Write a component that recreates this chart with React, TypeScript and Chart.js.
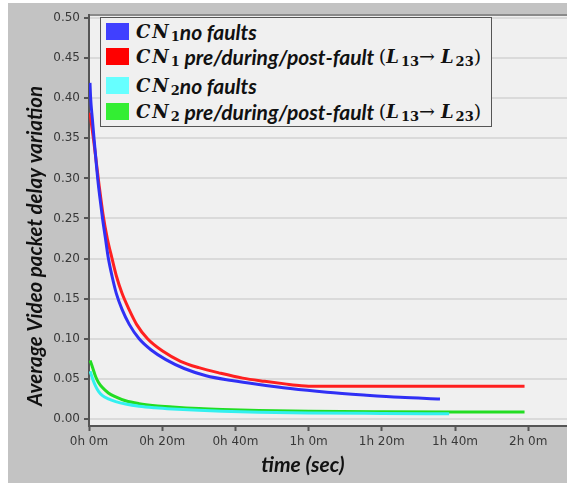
import React, { useEffect, useRef } from "react";
import { Chart, registerables } from "chart.js";

Chart.register(...registerables);

// ---- data (time in minutes) ----
const xTickValues = [0, 20, 40, 60, 80, 100, 120];
const xTickLabels = ["0h 0m", "0h 20m", "0h 40m", "1h 0m", "1h 20m", "1h 40m", "2h 0m"];
const yTickValues = [0, 0.05, 0.1, 0.15, 0.2, 0.25, 0.3, 0.35, 0.4, 0.45, 0.5];

const cn1NoFaultT = [0.27, 0.45, 0.9, 1.37, 1.9, 2.37, 3.0, 3.7, 4.5, 5.3, 6.3, 7.5, 9, 11, 13.7, 17, 21, 26, 32, 39, 46.4, 55, 65, 75, 85, 95.9];
const cn1NoFaultV = [0.419, 0.4, 0.375, 0.35, 0.323, 0.3, 0.275, 0.25, 0.225, 0.2, 0.178, 0.156, 0.137, 0.118, 0.1, 0.086, 0.074, 0.063, 0.054, 0.048, 0.043, 0.038, 0.0335, 0.03, 0.027, 0.025];

const cn1FaultT = [0.27, 0.6, 1.2, 2.0, 2.8, 3.8, 5.0, 6.3, 7.5, 9, 11, 13, 16, 20, 25, 30, 36, 42, 48, 54, 58, 60, 80, 100, 119];
const cn1FaultV = [0.382, 0.37, 0.35, 0.32, 0.29, 0.256, 0.225, 0.2, 0.178, 0.157, 0.136, 0.118, 0.1, 0.085, 0.072, 0.064, 0.057, 0.051, 0.047, 0.0435, 0.0415, 0.041, 0.041, 0.041, 0.041];

const cn2NoFaultT = [0.3, 1.0, 1.8, 2.6, 3.6, 5.3, 7.3, 10, 13.7, 18, 22.8, 30, 36.4, 46.4, 60, 80, 98.4];
const cn2NoFaultV = [0.0596, 0.05, 0.041, 0.0345, 0.0295, 0.025, 0.0217, 0.0187, 0.016, 0.0141, 0.0126, 0.0109, 0.0097, 0.0085, 0.0076, 0.007, 0.0066];

const cn2FaultT = [0.3, 1.0, 1.8, 2.6, 3.6, 5.3, 7.3, 10, 13.7, 18, 22.8, 30, 36.4, 46.4, 60, 80, 100, 119];
const cn2FaultV = [0.073, 0.064, 0.053, 0.0455, 0.0395, 0.0325, 0.0277, 0.0228, 0.0192, 0.0167, 0.015, 0.013, 0.0118, 0.0105, 0.0096, 0.009, 0.0087, 0.0087];

const yTitle = "Average Video packet delay variation";
const xTitle = "time (sec)";

const toPoints = (t: number[], v: number[]) => t.map((x, i) => ({ x, y: v[i] }));

const bgPlugin = {
  id: "plotBg",
  beforeDraw(chart: any) {
    const { ctx, chartArea } = chart;
    ctx.save();
    ctx.fillStyle = "#f0f0f0";
    ctx.fillRect(chartArea.left, chartArea.top, chartArea.right - chartArea.left, chartArea.bottom - chartArea.top);
    ctx.strokeStyle = "#8a8a8a";
    ctx.lineWidth = 2;
    ctx.beginPath();
    ctx.moveTo(chartArea.left, chartArea.top);
    ctx.lineTo(chartArea.right, chartArea.top);
    ctx.stroke();
    ctx.restore();
  },
  afterDraw(chart: any) {
    const { ctx } = chart;
    ctx.save();
    ctx.fillStyle = "#111";
    ctx.textAlign = "center";
    ctx.textBaseline = "middle";
    ctx.font = "italic bold 21px Lato, 'Open Sans', sans-serif";
    ctx.fillText(xTitle, 295, 462);
    ctx.font = "italic bold 20.5px Lato, 'Open Sans', sans-serif";
    ctx.translate(27, 243);
    ctx.rotate(-Math.PI / 2);
    ctx.fillText(yTitle, 0, 0);
    ctx.restore();
  },
};

const math: React.CSSProperties = {
  fontFamily: "'DejaVu Serif', 'Liberation Serif', serif",
  fontStyle: "italic",
  fontWeight: "bold",
  fontSize: 18,
  letterSpacing: 2,
};
const sub: React.CSSProperties = {
  fontFamily: "'DejaVu Serif', 'Liberation Serif', serif",
  fontWeight: "bold",
  fontSize: 13,
  position: "relative",
  top: 5,
};
const word: React.CSSProperties = {
  fontFamily: "Lato, 'Open Sans', sans-serif",
  fontStyle: "italic",
  fontWeight: "bold",
  fontSize: 21,
};
const upright: React.CSSProperties = {
  fontFamily: "'DejaVu Serif', 'Liberation Serif', serif",
  fontSize: 19,
};

function Row(props: { color: string; top: number; idx: string; fault: boolean }) {
  return (
    <div style={{ position: "absolute", left: 0, top: props.top - 13, height: 26, display: "flex", alignItems: "center", whiteSpace: "nowrap", color: "#111" }}>
      <div style={{ width: 23, height: 17, background: props.color, marginLeft: 5, marginRight: 7 }} />
      <span style={math}>CN</span>
      <span style={sub}>{props.idx}</span>
      {props.fault ? (
        <>
          <span style={word}>&nbsp;pre/during/post-fault&nbsp;</span>
          <span style={upright}>(</span>
          <span style={math}>L</span>
          <span style={sub}>13</span>
          <span style={upright}>→&nbsp;</span>
          <span style={math}>L</span>
          <span style={sub}>23</span>
          <span style={upright}>)</span>
        </>
      ) : (
        <span style={word}>no faults</span>
      )}
    </div>
  );
}

export default function App() {
  const ref = useRef<HTMLCanvasElement>(null);
  useEffect(() => {
    if (!ref.current) return;
    const chart = new Chart(ref.current, {
      type: "line",
      data: {
        datasets: [
          { label: "CN1 no faults", data: toPoints(cn1NoFaultT, cn1NoFaultV), borderColor: "#3030f5", order: 1 },
          { label: "CN1 pre/during/post-fault (L13→ L23)", data: toPoints(cn1FaultT, cn1FaultV), borderColor: "#ff2020", order: 2 },
          { label: "CN2 no faults", data: toPoints(cn2NoFaultT, cn2NoFaultV), borderColor: "#33f0f0", order: 3 },
          { label: "CN2 pre/during/post-fault (L13→ L23)", data: toPoints(cn2FaultT, cn2FaultV), borderColor: "#22dd22", order: 4 },
        ].map((d) => ({ ...d, borderWidth: 3, pointRadius: 0, fill: false, cubicInterpolationMode: "monotone" as const })),
      },
      options: {
        animation: false,
        responsive: false,
        layout: { padding: { top: 12, right: 0, left: 0, bottom: 0 } },
        plugins: { legend: { display: false }, tooltip: { enabled: false } },
        scales: {
          x: {
            type: "linear",
            min: 0,
            max: 130.6,
            afterBuildTicks: (s: any) => {
              s.ticks = xTickValues.map((v) => ({ value: v }));
            },
            afterFit: (s: any) => {
              s.height = 57;
            },
            ticks: {
              autoSkip: false,
              maxRotation: 0,
              padding: 4,
              color: "#383838",
              font: { family: "'DejaVu Sans', sans-serif", size: 12 },
              callback: (v: any) => {
                const i = xTickValues.indexOf(Number(v));
                return i >= 0 ? xTickLabels[i] : "";
              },
            },
            grid: { drawOnChartArea: false, drawTicks: true, tickLength: 5, tickColor: "#555", tickWidth: 2 },
            border: { color: "#555", width: 2 },
          },
          y: {
            type: "linear",
            min: -0.0087,
            max: 0.5037,
            afterBuildTicks: (s: any) => {
              s.ticks = yTickValues.map((v) => ({ value: v }));
            },
            afterFit: (s: any) => {
              s.width = 81;
            },
            ticks: {
              padding: 4,
              color: "#383838",
              font: { family: "'DejaVu Sans', sans-serif", size: 12 },
              callback: (v: any) => Number(v).toFixed(2),
            },
            grid: { color: "#dadada", lineWidth: 2, drawTicks: true, tickLength: 5, tickColor: "#555", tickWidth: 2 },
            border: { color: "#555", width: 2 },
          },
        },
      },
      plugins: [bgPlugin],
    });
    return () => chart.destroy();
  }, []);

  return (
    <div style={{ position: "fixed", left: 0, top: 0, width: 567, height: 483, background: "#ffffff" }}>
      <div style={{ position: "absolute", left: 8, top: 3, width: 559, height: 480, background: "#c3c3c3" }}>
        <canvas ref={ref} width={559} height={480} style={{ display: "block" }} />
        <div style={{ position: "absolute", left: 92, top: 14, width: 390, height: 108, border: "1px solid #555", background: "#f0f0f0" }}>
          <Row color="#4040ff" top={13} idx="1" fault={false} />
          <Row color="#ff0000" top={38} idx="1" fault={true} />
          <Row color="#66ffff" top={67} idx="2" fault={false} />
          <Row color="#33ee33" top={93} idx="2" fault={true} />
        </div>
      </div>
    </div>
  );
}
